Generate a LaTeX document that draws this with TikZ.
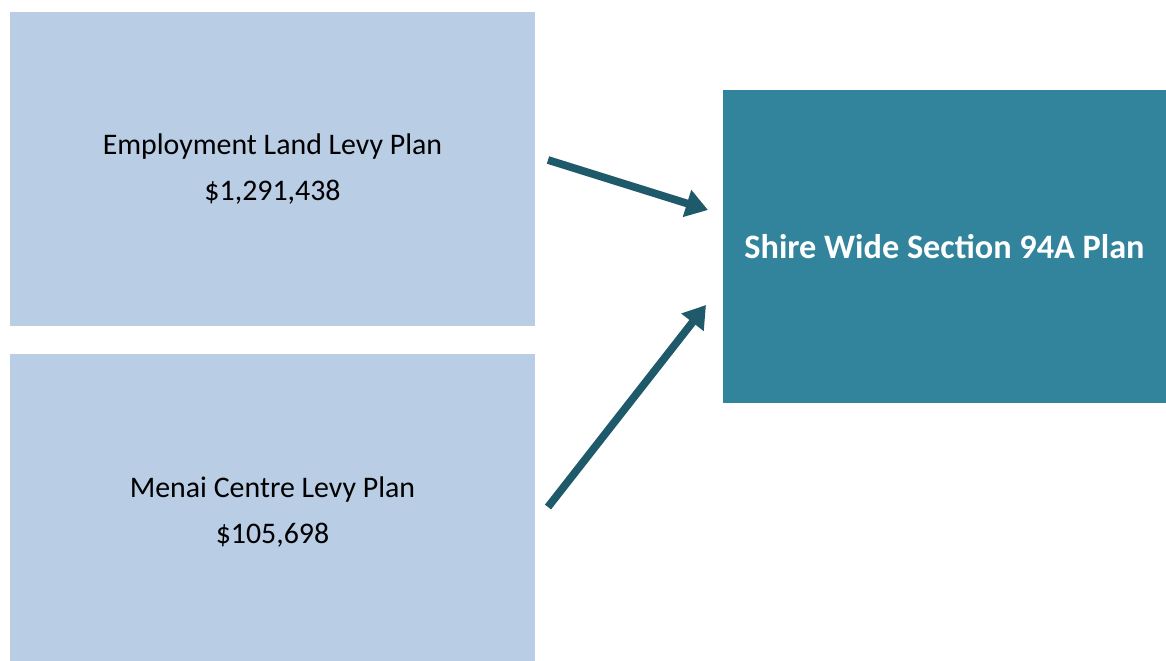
\documentclass[tikz,border=0pt]{standalone}
\usepackage{fontspec}
\setmainfont{Carlito}
\usetikzlibrary{arrows.meta}

\definecolor{levyblue}{HTML}{B9CDE5}
\definecolor{shireteal}{HTML}{31849B}
\definecolor{arrowteal}{HTML}{1F5A6A}

\begin{document}
\begin{tikzpicture}[x=0.02cm, y=-0.02cm,
    levybox/.style={fill=levyblue, minimum width=10.5cm, minimum height=6.28cm, inner sep=0pt, align=center, font=\fontsize{17}{26}\selectfont},
    shirebox/.style={fill=shireteal, minimum width=8.86cm, minimum height=6.26cm, inner sep=0pt, text=white, font=\fontsize{19.5}{22}\selectfont\bfseries},
    flow/.style={draw=arrowteal, line width=0.155cm, -{Triangle[length=0.44cm, width=0.54cm]}}]
    \useasboundingbox (0,0) rectangle (1166,661);

    \node (employment) [levybox] at (272.5,169) {Employment Land Levy Plan\\\$1,291,438};
    \node (menai) [levybox, minimum height=6.14cm] at (272.5,507.5) {};
    \node (menaitext) [align=center, font=\fontsize{17}{26}\selectfont] at (272.5,512) {Menai Centre Levy Plan\\\$105,698};
    \node (shire) [shirebox] at (944.5,246.5) {Shire Wide Section 94A Plan};

    \coordinate (empout) at (548,160);
    \coordinate (empin) at (708,210);
    \coordinate (menout) at (548,507);
    \coordinate (menin) at (706,305);

    \draw [flow] (empout) -- (empin);
    \draw [flow] (menout) -- (menin);

\end{tikzpicture}
\end{document}
